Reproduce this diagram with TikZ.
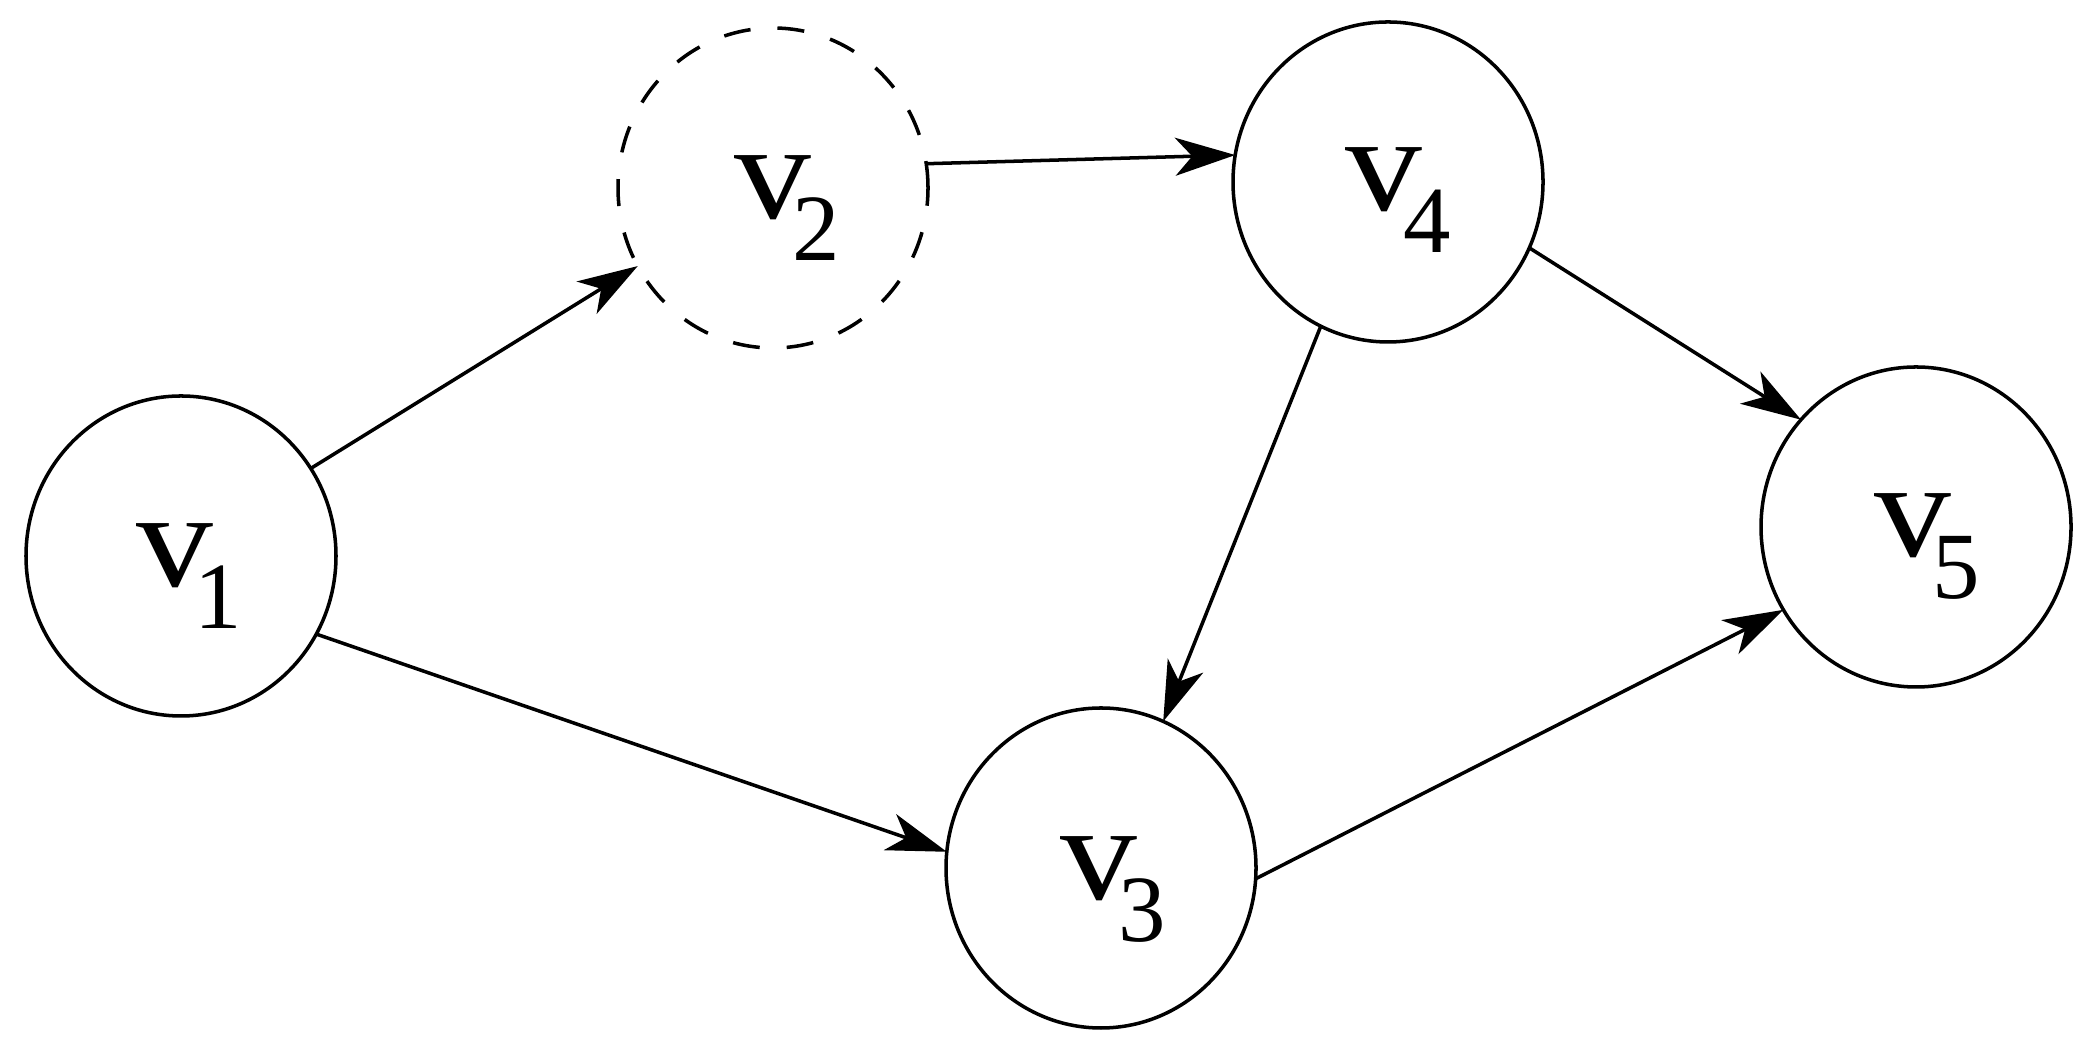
\documentclass[tikz,border=0pt]{standalone}
\usepackage{fontspec}
\setmainfont{Liberation Serif}
\usetikzlibrary{shapes.geometric,arrows.meta}
\newcommand{\vlab}[1]{\scalebox{1.12}[1]{v}\kern-0.19cm\raisebox{-0.42cm}{\fontsize{27}{27}\selectfont #1}}
\tikzset{
  vert/.style={ellipse, draw, line width=1pt, minimum width=3.10cm, minimum height=3.20cm, inner sep=0pt, outer sep=0pt},
  dvert/.style={vert, dash pattern=on 0.27cm off 0.27cm},
  lab/.style={font=\fontsize{39}{39}\selectfont, inner sep=0pt},
  edge/.style={line width=1pt, -{Stealth[length=0.60cm, width=0.38cm, inset=0.17cm]}}
}
\begin{document}
\begin{tikzpicture}
\useasboundingbox (0,0) rectangle (20.94,10.49);
\node[vert]  (v1) at (1.81,4.93) {};
\node[dvert] (v2) at (7.73,8.61) {};
\node[vert]  (v4) at (13.88,8.67) {};
\node[vert]  (v5) at (19.16,5.22) {};
\node[vert]  (v3) at (11.01,1.81) {};
\node[lab] (t1) at ([shift={(0.08,-0.20)}]v1.center) {\vlab{1}};
\node[lab] (t2) at ([shift={(0.14,-0.20)}]v2.center) {\vlab{2}};
\node[lab] (t4) at ([shift={(0.10,-0.18)}]v4.center) {\vlab{4}};
\node[lab] (t5) at ([shift={(0.11,-0.20)}]v5.center) {\vlab{5}};
\node[lab] (t3) at ([shift={(0.12,-0.22)}]v3.center) {\vlab{3}};
\draw[edge] (v1.34.6) -- (v2.210);
\draw[edge] (v2.9) -- (v4.170.5);
\draw[edge] (v1.-30) -- (v3.174.5);
\draw[edge] (v4.245.3) -- (v3.67.3);
\draw[edge] (v4.-25) -- (v5.137);
\draw[edge] (v3.-4.4) -- (v5.212.3);
\end{tikzpicture}
\end{document}
